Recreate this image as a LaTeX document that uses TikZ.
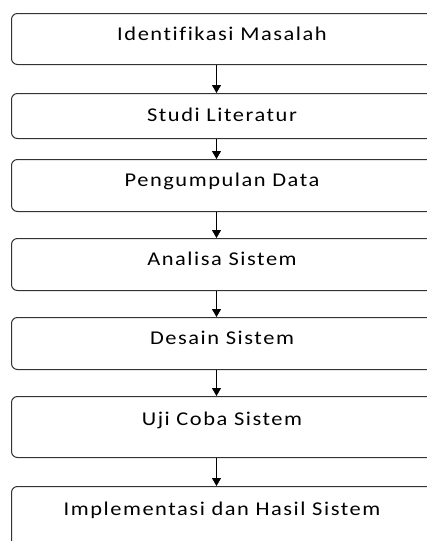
\documentclass[tikz,border=0pt]{standalone}
\usepackage{fontspec}
\newfontfamily\lblfont[FakeStretch=1.15,LetterSpace=8,Ligatures={NoCommon}]{Carlito}
\usetikzlibrary{arrows.meta}
\begin{document}
\begin{tikzpicture}[x=1pt,y=-1pt,
  box/.style={draw=black!80,line width=1pt,rounded corners=6pt,rectangle,inner sep=0pt,minimum width=422pt,anchor=north west},
  lbl/.style={anchor=base,inner sep=0pt,font=\lblfont\fontsize{19.5}{22}\selectfont},
  arr/.style={draw=black,line width=1pt,-{Triangle[width=9pt,length=8pt]}}]
\useasboundingbox (0,0) rectangle (427,541);
\clip (0,0) rectangle (427,541);
\node[box,minimum height=51pt] (b1) at (11,13) {};
\node[box,minimum height=45pt] (b2) at (11,93) {};
\node[box,minimum height=52pt] (b3) at (11,159) {};
\node[box,minimum height=52pt] (b4) at (11,238) {};
\node[box,minimum height=52pt] (b5) at (11,317) {};
\node[box,minimum height=61pt] (b6) at (11,396) {};
\node[box,minimum height=70pt] (b7) at (11,486) {};
\node[lbl] (t1) at (222,40) {Identifikasi Masalah};
\node[lbl] (t2) at (222,121) {Studi Literatur};
\node[lbl] (t3) at (222,186) {Pengumpulan Data};
\node[lbl] (t4) at (222,265) {Analisa Sistem};
\node[lbl] (t5) at (222,344) {Desain Sistem};
\node[lbl] (t6) at (222,425) {Uji Coba Sistem};
\node[lbl] (t7) at (222,515) {Implementasi dan Hasil Sistem};
\draw[arr] ([xshift=-6pt]b1.south) -- ([xshift=-6pt]b2.north);
\draw[arr] ([xshift=-6pt]b2.south) -- ([xshift=-6pt]b3.north);
\draw[arr] ([xshift=-6pt]b3.south) -- ([xshift=-6pt]b4.north);
\draw[arr] ([xshift=-6pt]b4.south) -- ([xshift=-6pt]b5.north);
\draw[arr] ([xshift=-6pt]b5.south) -- ([xshift=-6pt]b6.north);
\draw[arr] ([xshift=-6pt]b6.south) -- ([xshift=-6pt]b7.north);
\end{tikzpicture}
\end{document}
